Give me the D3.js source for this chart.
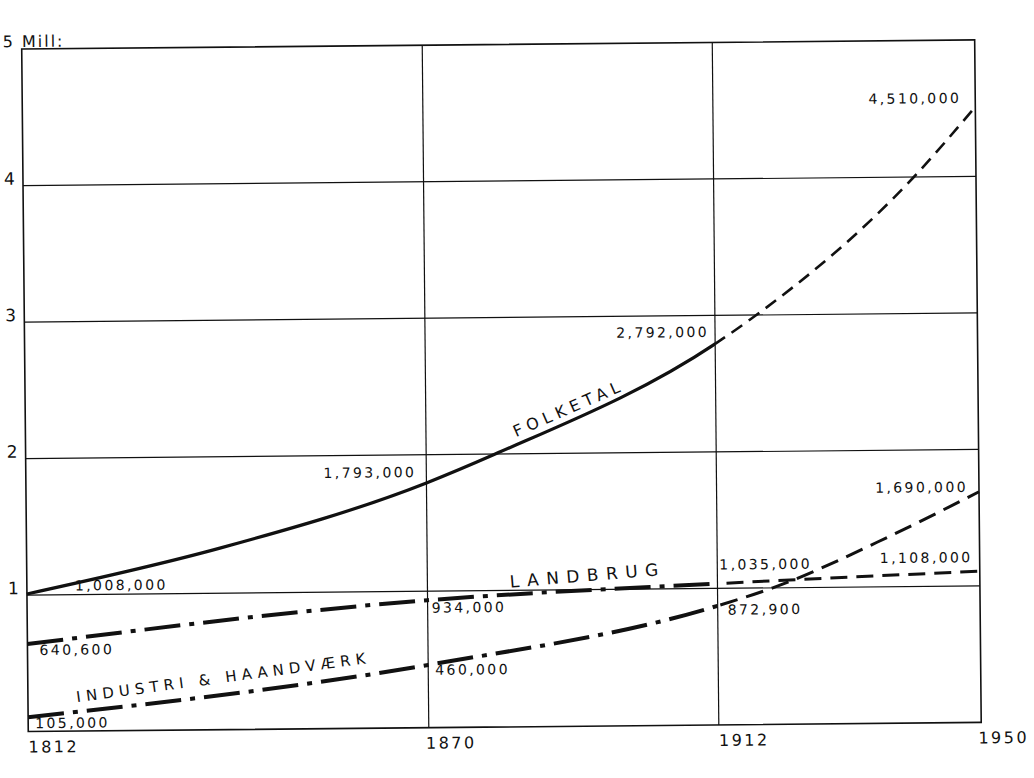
<!DOCTYPE html>
<html>
<head>
<meta charset="utf-8">
<script src="https://cdn.jsdelivr.net/npm/d3@7/dist/d3.min.js"></script>
<style>
  html, body { margin: 0; padding: 0; background: #fff; }
  svg { display: block; }
  text { font-family: "DejaVu Sans", sans-serif; fill: #111; }
</style>
</head>
<body>
<svg id="chart" width="1034" height="778"></svg>
<script>
// ---- data (values in millions) ----
const xTicks = [1812, 1870, 1912, 1950];
const yTicks = [1, 2, 3, 4];
const unitLabel = "5 Mill:";

const folketalYears  = [1812, 1840, 1870, 1880, 1912, 1918, 1941, 1950];
const folketalValues = [1.008, 1.33, 1.793, 2.0, 2.792, 3.0, 4.0, 4.51];

const landbrugYears  = [1812, 1870, 1912, 1950];
const landbrugValues = [0.6406, 0.934, 1.035, 1.108];

const industriYears  = [1812, 1870, 1912, 1920, 1937, 1950];
const industriValues = [0.105, 0.46, 0.8729, 1.0, 1.37, 1.69];

const projectionStart = 1912;

// labelled values
const folketalLabelYears = [1812, 1870, 1912, 1950];
const folketalLabels = ["1,008,000", "1,793,000", "2,792,000", "4,510,000"];
const landbrugLabelYears = [1812, 1870, 1912, 1950];
const landbrugLabels = ["640,600", "934,000", "1,035,000", "1,108,000"];
const industriLabelYears = [1812, 1870, 1912, 1950];
const industriLabels = ["105,000", "460,000", "872,900", "1,690,000"];

const seriesNames = ["FOLKETAL", "LANDBRUG", "INDUSTRI & HAANDVÆRK"];

// ---- layout ----
const svg = d3.select("#chart");
const mLeft = 25, mRight = 978, mTop = 44.5, mBottom = 727;
const x = d3.scaleLinear().domain([1812, 1950]).range([mLeft, mRight]);
const y = d3.scaleLinear().domain([0, 5]).range([mBottom, mTop]);

const ink = "#111";
// the original sheet sits slightly askew
const root = svg.append("g").attr("transform", "rotate(-0.55, 500, 389)");

// grid
root.selectAll("line.h").data(yTicks).enter().append("line")
  .attr("x1", mLeft).attr("x2", mRight)
  .attr("y1", d => y(d)).attr("y2", d => y(d))
  .attr("stroke", ink).attr("stroke-width", 1.2);
root.selectAll("line.v").data(xTicks.slice(1, 3)).enter().append("line")
  .attr("x1", d => x(d)).attr("x2", d => x(d))
  .attr("y1", mTop).attr("y2", mBottom)
  .attr("stroke", ink).attr("stroke-width", 1.2);
root.append("rect").attr("x", mLeft).attr("y", mTop)
  .attr("width", mRight - mLeft).attr("height", mBottom - mTop)
  .attr("fill", "none").attr("stroke", ink).attr("stroke-width", 1.6);

// axis labels
root.append("text").attr("x", 6).attr("y", mTop - 2)
  .attr("font-size", 16).attr("letter-spacing", 2).text(unitLabel);
root.selectAll("text.yt").data(yTicks).enter().append("text")
  .attr("x", 6).attr("y", d => y(d) - 1)
  .attr("font-size", 17).text(d => d);
const xOff = [0, -3, 0, -3];
root.selectAll("text.xt").data(xTicks).enter().append("text")
  .attr("x", (d, i) => x(d) + xOff[i]).attr("y", mBottom + 21)
  .attr("font-size", 16).attr("letter-spacing", 2.5).text(d => d);

// clip paths for historic / projection parts
const defs = svg.append("defs");
defs.append("clipPath").attr("id", "hist").append("rect")
  .attr("x", 0).attr("y", 0).attr("width", x(projectionStart)).attr("height", 778);
defs.append("clipPath").attr("id", "proj").append("rect")
  .attr("x", x(projectionStart)).attr("y", 0).attr("width", 1034).attr("height", 778);

const line = d3.line().x(d => x(d[0])).y(d => y(d[1])).curve(d3.curveMonotoneX);

function drawSeries(years, values, histStyle, projStyle) {
  const pts = years.map((yr, i) => [yr, values[i]]);
  root.append("path").attr("d", line(pts)).attr("clip-path", "url(#hist)")
    .attr("fill", "none").attr("stroke", ink)
    .attr("stroke-width", histStyle.w)
    .attr("stroke-dasharray", histStyle.dash || null);
  root.append("path").attr("d", line(pts)).attr("clip-path", "url(#proj)")
    .attr("fill", "none").attr("stroke", ink)
    .attr("stroke-width", projStyle.w)
    .attr("stroke-dasharray", projStyle.dash || null);
}

drawSeries(folketalYears, folketalValues, { w: 3.2 }, { w: 2.6, dash: "13 8" });
drawSeries(landbrugYears, landbrugValues, { w: 4, dash: "36 9 5 9" }, { w: 3, dash: "17 9" });
drawSeries(industriYears, industriValues, { w: 4, dash: "36 9 5 9" }, { w: 3, dash: "18 9" });

// value labels
function valueOf(years, values, yr) { return values[years.indexOf(yr)]; }
function labels(labelYears, texts, years, values, offsets) {
  labelYears.forEach((yr, i) => {
    const o = offsets[i];
    root.append("text")
      .attr("x", x(yr) + o[0]).attr("y", y(valueOf(years, values, yr)) + o[1])
      .attr("text-anchor", o[2] || "start")
      .attr("font-size", 14).attr("letter-spacing", 2.4)
      .text(texts[i]);
  });
}
labels(folketalLabelYears, folketalLabels, folketalYears, folketalValues,
  [[48, -3], [-10, -6, "end"], [-6, -7, "end"], [-14, -4, "end"]]);
labels(landbrugLabelYears, landbrugLabels, landbrugYears, landbrugValues,
  [[12, 11], [4, 12.5], [2, -14], [-7, -9, "end"]]);
labels(industriLabelYears, industriLabels, industriYears, industriValues,
  [[7, 11], [7, 10], [10, 9], [-11, 0, "end"]]);

// series name labels
function seriesLabel(text, cx, cy, angle, size, spacing) {
  root.append("text")
    .attr("transform", `translate(${cx},${cy}) rotate(${angle})`)
    .attr("text-anchor", "middle")
    .attr("font-size", size).attr("letter-spacing", spacing)
    .text(text);
}
// positions relative to the series curves
seriesLabel(seriesNames[0], x(1890) + 7, y(2.3) + 1, -23, 16, 5);
seriesLabel(seriesNames[1], x(1893) + 2, y(1) - 8.5, -4.2, 17, 7.5);
seriesLabel(seriesNames[2], x(1840) + 3, y(0.25) - 13, -7.1, 15, 5.2);
</script>
</body>
</html>
